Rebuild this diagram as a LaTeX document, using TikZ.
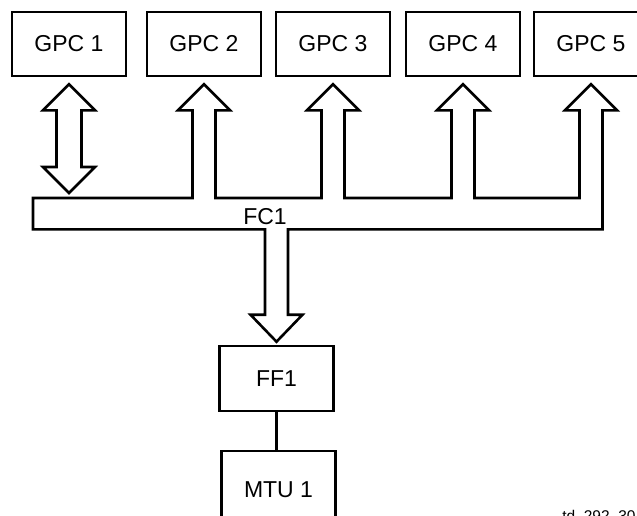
\documentclass[tikz,border=0pt]{standalone}
\usepackage{fontspec}
\setmainfont{Liberation Sans}
\usetikzlibrary{calc}

\begin{document}
\begin{tikzpicture}[
  x=1pt,y=-1pt,
  line width=2.6pt,line join=miter,
  box/.style={draw,minimum width=114pt,minimum height=64pt,inner sep=0pt,
    font=\fontsize{23}{27}\selectfont},
  lbl/.style={inner sep=0pt,font=\fontsize{23}{27}\selectfont},
  fat/.style={draw,line width=2.6pt}
]
  \useasboundingbox (0,0) rectangle (637,515);
  \clip (0,0) rectangle (637,515);
  % the five GPC boxes
  \foreach \g/\x in {1/69,2/204,3/333,4/463,5/591}
    {\node[box] (gpc\g) at (\x,44) {GPC \g};}
  \node[box,minimum height=65pt] (ff1) at (276.5,378.5) {FF1};
  \node[box,minimum height=78pt] (mtu1) at (278.5,490) {MTU 1};
  \draw (ff1.south) -- (ff1.south |- mtu1.north);
  % arrow tips and the FC1 bus corners
  \foreach \g in {1,...,5}
    {\coordinate (tip\g) at ([yshift=-7pt]gpc\g.south);}
  \coordinate (tipD) at ([yshift=3pt]ff1.north);
  \coordinate (busNW) at (33,198);
  \coordinate (busSE) at ($(tip5)+(11.5,145)$);
  \coordinate (bot1) at ($(tip1 |- busNW)+(0,-5)$);
  % GPC 1 <-> FC1
  \draw[fat] (tip1) -- ($(tip1)+(26,26)$) -- ($(tip1)+(12.5,26)$)
    -- ($(bot1)+(12.5,-26)$) -- ($(bot1)+(26,-26)$) -- (bot1)
    -- ($(bot1)+(-26,-26)$) -- ($(bot1)+(-12.5,-26)$)
    -- ($(tip1)+(-12.5,26)$) -- ($(tip1)+(-26,26)$) -- cycle;
  % FC1 bus with the arrows up to GPC 2..5 and down to FF1
  \draw[fat] (busNW)
    \foreach \g in {2,3,4}{
      -- ($(tip\g |- busNW)+(-11.5,0)$) -- ($(tip\g)+(-11.5,26)$)
      -- ($(tip\g)+(-26,26)$) -- (tip\g) -- ($(tip\g)+(26,26)$)
      -- ($(tip\g)+(11.5,26)$) -- ($(tip\g |- busNW)+(11.5,0)$)
    }
    -- ($(tip5 |- busNW)+(-11.5,0)$) -- ($(tip5)+(-11.5,26)$)
    -- ($(tip5)+(-26,26)$) -- (tip5) -- ($(tip5)+(26,26)$)
    -- ($(tip5)+(11.5,26)$) -- (busSE)
    -- ($(tipD |- busSE)+(11.5,0)$) -- ($(tipD)+(11.5,-27)$)
    -- ($(tipD)+(26,-27)$) -- (tipD) -- ($(tipD)+(-26,-27)$)
    -- ($(tipD)+(-11.5,-27)$) -- ($(tipD |- busSE)+(-11.5,0)$)
    -- (busNW |- busSE) -- cycle;
  \node[lbl] (fc1) at (265,217) {FC1};
  \node[anchor=base west,inner sep=0pt,font=\fontsize{15.5}{18}\selectfont]
    (tdref) at (561,521) {td\_292\_30};
\end{tikzpicture}
\end{document}
